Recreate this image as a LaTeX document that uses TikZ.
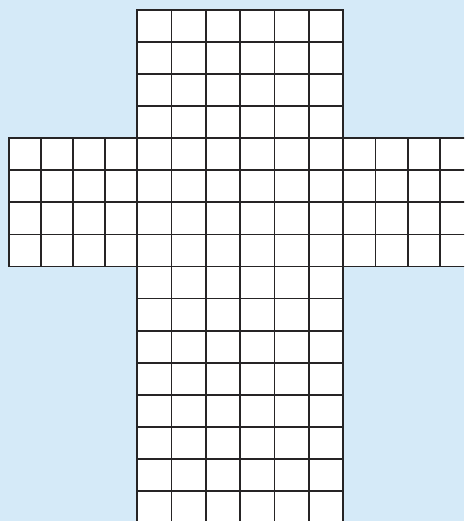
\documentclass[tikz,border=0pt]{standalone}
\definecolor{bgblue}{HTML}{D5EAF8}
\definecolor{gridline}{HTML}{262425}
\tikzset{gridstroke/.style={draw=gridline,line width=1.7pt,line cap=rect}}
\begin{document}
\begin{tikzpicture}[x=1pt,y=-1pt]
\fill[bgblue] (0,0) rectangle (464,521);
\useasboundingbox (0,0) rectangle (464,521);
\begin{scope}
\clip (0,0) rectangle (464,521);
% white cross
\fill[white] (137.2,9.7) rectangle (343.3,540);
\fill[white] (8.8,138.1) rectangle (480,266.5);
% middle column vertical lines
\foreach \x in {137.2,171.5,205.9,240.2,274.6,308.9,343.3}
  \draw[gridstroke] (\x,9.7) -- (\x,540);
% middle horizontal lines
\foreach \k in {0,...,16}
  \draw[gridstroke] (137.2,{9.7+32.1*\k}) -- (343.3,{9.7+32.1*\k});
% arms horizontal lines
\foreach \k in {4,...,8}
  \draw[gridstroke] (8.8,{9.7+32.1*\k}) -- (480,{9.7+32.1*\k});
% left arm vertical lines
\foreach \x in {8.8,40.9,72.9,105.0}
  \draw[gridstroke] (\x,138.1) -- (\x,266.5);
% right arm vertical lines
\foreach \x in {375.5,407.8,440.0,472.3}
  \draw[gridstroke] (\x,138.1) -- (\x,266.5);
\end{scope}
\end{tikzpicture}
\end{document}
